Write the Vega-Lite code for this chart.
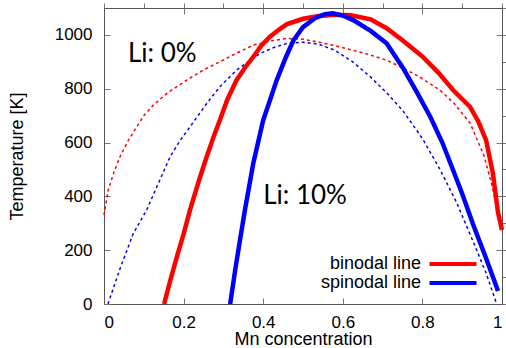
{
  "$schema": "https://vega.github.io/schema/vega-lite/v6.json",
  "width": 398,
  "height": 296,
  "autosize": {"type": "none"},
  "padding": {"left": 104, "top": 8, "right": 4, "bottom": 44},
  "background": "white",
  "config": {
    "view": {"stroke": "#777", "strokeWidth": 1},
    "font": "Liberation Sans",
    "axis": {"grid": false, "labelFont": "Liberation Sans", "titleFont": "Liberation Sans", "labelColor": "#000", "titleColor": "#000", "titleFontWeight": "normal", "domainColor": "#555", "tickColor": "#777", "labelFontSize": 17, "titleFontSize": 18}
  },
  "datasets": {
    "curves": [
      {"x": 0.0, "T": 330, "kind": "binodal line", "li": "0%"},
      {"x": 0.01, "T": 420, "kind": "binodal line", "li": "0%"},
      {"x": 0.025, "T": 490, "kind": "binodal line", "li": "0%"},
      {"x": 0.04, "T": 547, "kind": "binodal line", "li": "0%"},
      {"x": 0.06, "T": 605, "kind": "binodal line", "li": "0%"},
      {"x": 0.082, "T": 658, "kind": "binodal line", "li": "0%"},
      {"x": 0.1, "T": 700, "kind": "binodal line", "li": "0%"},
      {"x": 0.124, "T": 739, "kind": "binodal line", "li": "0%"},
      {"x": 0.16, "T": 785, "kind": "binodal line", "li": "0%"},
      {"x": 0.208, "T": 832, "kind": "binodal line", "li": "0%"},
      {"x": 0.25, "T": 870, "kind": "binodal line", "li": "0%"},
      {"x": 0.291, "T": 900, "kind": "binodal line", "li": "0%"},
      {"x": 0.33, "T": 930, "kind": "binodal line", "li": "0%"},
      {"x": 0.375, "T": 962, "kind": "binodal line", "li": "0%"},
      {"x": 0.42, "T": 978, "kind": "binodal line", "li": "0%"},
      {"x": 0.459, "T": 987, "kind": "binodal line", "li": "0%"},
      {"x": 0.5, "T": 984, "kind": "binodal line", "li": "0%"},
      {"x": 0.54, "T": 973, "kind": "binodal line", "li": "0%"},
      {"x": 0.58, "T": 960, "kind": "binodal line", "li": "0%"},
      {"x": 0.626, "T": 943, "kind": "binodal line", "li": "0%"},
      {"x": 0.67, "T": 925, "kind": "binodal line", "li": "0%"},
      {"x": 0.71, "T": 906, "kind": "binodal line", "li": "0%"},
      {"x": 0.75, "T": 878, "kind": "binodal line", "li": "0%"},
      {"x": 0.794, "T": 843, "kind": "binodal line", "li": "0%"},
      {"x": 0.844, "T": 795, "kind": "binodal line", "li": "0%"},
      {"x": 0.88, "T": 745, "kind": "binodal line", "li": "0%"},
      {"x": 0.92, "T": 672, "kind": "binodal line", "li": "0%"},
      {"x": 0.955, "T": 550, "kind": "binodal line", "li": "0%"},
      {"x": 0.975, "T": 440, "kind": "binodal line", "li": "0%"},
      {"x": 0.995, "T": 300, "kind": "binodal line", "li": "0%"},
      {"x": 0.01, "T": 0, "kind": "spinodal line", "li": "0%"},
      {"x": 0.04, "T": 130, "kind": "spinodal line", "li": "0%"},
      {"x": 0.073, "T": 260, "kind": "spinodal line", "li": "0%"},
      {"x": 0.107, "T": 349, "kind": "spinodal line", "li": "0%"},
      {"x": 0.14, "T": 460, "kind": "spinodal line", "li": "0%"},
      {"x": 0.166, "T": 547, "kind": "spinodal line", "li": "0%"},
      {"x": 0.19, "T": 605, "kind": "spinodal line", "li": "0%"},
      {"x": 0.216, "T": 658, "kind": "spinodal line", "li": "0%"},
      {"x": 0.258, "T": 745, "kind": "spinodal line", "li": "0%"},
      {"x": 0.291, "T": 807, "kind": "spinodal line", "li": "0%"},
      {"x": 0.333, "T": 869, "kind": "spinodal line", "li": "0%"},
      {"x": 0.392, "T": 931, "kind": "spinodal line", "li": "0%"},
      {"x": 0.43, "T": 955, "kind": "spinodal line", "li": "0%"},
      {"x": 0.459, "T": 968, "kind": "spinodal line", "li": "0%"},
      {"x": 0.5, "T": 973, "kind": "spinodal line", "li": "0%"},
      {"x": 0.54, "T": 965, "kind": "spinodal line", "li": "0%"},
      {"x": 0.58, "T": 943, "kind": "spinodal line", "li": "0%"},
      {"x": 0.625, "T": 900, "kind": "spinodal line", "li": "0%"},
      {"x": 0.67, "T": 843, "kind": "spinodal line", "li": "0%"},
      {"x": 0.71, "T": 785, "kind": "spinodal line", "li": "0%"},
      {"x": 0.75, "T": 720, "kind": "spinodal line", "li": "0%"},
      {"x": 0.8, "T": 615, "kind": "spinodal line", "li": "0%"},
      {"x": 0.845, "T": 498, "kind": "spinodal line", "li": "0%"},
      {"x": 0.885, "T": 380, "kind": "spinodal line", "li": "0%"},
      {"x": 0.927, "T": 234, "kind": "spinodal line", "li": "0%"},
      {"x": 0.96, "T": 115, "kind": "spinodal line", "li": "0%"},
      {"x": 0.985, "T": 7, "kind": "spinodal line", "li": "0%"},
      {"x": 0.151, "T": 0, "kind": "binodal line", "li": "10%"},
      {"x": 0.167, "T": 90, "kind": "binodal line", "li": "10%"},
      {"x": 0.183, "T": 175, "kind": "binodal line", "li": "10%"},
      {"x": 0.2, "T": 260, "kind": "binodal line", "li": "10%"},
      {"x": 0.216, "T": 349, "kind": "binodal line", "li": "10%"},
      {"x": 0.241, "T": 470, "kind": "binodal line", "li": "10%"},
      {"x": 0.258, "T": 547, "kind": "binodal line", "li": "10%"},
      {"x": 0.275, "T": 620, "kind": "binodal line", "li": "10%"},
      {"x": 0.291, "T": 683, "kind": "binodal line", "li": "10%"},
      {"x": 0.31, "T": 760, "kind": "binodal line", "li": "10%"},
      {"x": 0.333, "T": 832, "kind": "binodal line", "li": "10%"},
      {"x": 0.355, "T": 880, "kind": "binodal line", "li": "10%"},
      {"x": 0.375, "T": 918, "kind": "binodal line", "li": "10%"},
      {"x": 0.395, "T": 960, "kind": "binodal line", "li": "10%"},
      {"x": 0.417, "T": 993, "kind": "binodal line", "li": "10%"},
      {"x": 0.44, "T": 1020, "kind": "binodal line", "li": "10%"},
      {"x": 0.46, "T": 1040, "kind": "binodal line", "li": "10%"},
      {"x": 0.5, "T": 1060, "kind": "binodal line", "li": "10%"},
      {"x": 0.54, "T": 1070, "kind": "binodal line", "li": "10%"},
      {"x": 0.58, "T": 1075, "kind": "binodal line", "li": "10%"},
      {"x": 0.62, "T": 1073, "kind": "binodal line", "li": "10%"},
      {"x": 0.67, "T": 1058, "kind": "binodal line", "li": "10%"},
      {"x": 0.71, "T": 1025, "kind": "binodal line", "li": "10%"},
      {"x": 0.75, "T": 980, "kind": "binodal line", "li": "10%"},
      {"x": 0.8, "T": 920, "kind": "binodal line", "li": "10%"},
      {"x": 0.84, "T": 860, "kind": "binodal line", "li": "10%"},
      {"x": 0.877, "T": 795, "kind": "binodal line", "li": "10%"},
      {"x": 0.92, "T": 732, "kind": "binodal line", "li": "10%"},
      {"x": 0.94, "T": 680, "kind": "binodal line", "li": "10%"},
      {"x": 0.96, "T": 609, "kind": "binodal line", "li": "10%"},
      {"x": 0.977, "T": 486, "kind": "binodal line", "li": "10%"},
      {"x": 0.99, "T": 340, "kind": "binodal line", "li": "10%"},
      {"x": 1.0, "T": 275, "kind": "binodal line", "li": "10%"},
      {"x": 0.317, "T": 0, "kind": "spinodal line", "li": "10%"},
      {"x": 0.33, "T": 130, "kind": "spinodal line", "li": "10%"},
      {"x": 0.342, "T": 240, "kind": "spinodal line", "li": "10%"},
      {"x": 0.354, "T": 349, "kind": "spinodal line", "li": "10%"},
      {"x": 0.375, "T": 522, "kind": "spinodal line", "li": "10%"},
      {"x": 0.4, "T": 683, "kind": "spinodal line", "li": "10%"},
      {"x": 0.417, "T": 757, "kind": "spinodal line", "li": "10%"},
      {"x": 0.434, "T": 832, "kind": "spinodal line", "li": "10%"},
      {"x": 0.457, "T": 917, "kind": "spinodal line", "li": "10%"},
      {"x": 0.476, "T": 980, "kind": "spinodal line", "li": "10%"},
      {"x": 0.5, "T": 1029, "kind": "spinodal line", "li": "10%"},
      {"x": 0.53, "T": 1062, "kind": "spinodal line", "li": "10%"},
      {"x": 0.555, "T": 1077, "kind": "spinodal line", "li": "10%"},
      {"x": 0.575, "T": 1080, "kind": "spinodal line", "li": "10%"},
      {"x": 0.6, "T": 1072, "kind": "spinodal line", "li": "10%"},
      {"x": 0.626, "T": 1055, "kind": "spinodal line", "li": "10%"},
      {"x": 0.67, "T": 1015, "kind": "spinodal line", "li": "10%"},
      {"x": 0.71, "T": 969, "kind": "spinodal line", "li": "10%"},
      {"x": 0.75, "T": 880, "kind": "spinodal line", "li": "10%"},
      {"x": 0.785, "T": 790, "kind": "spinodal line", "li": "10%"},
      {"x": 0.82, "T": 695, "kind": "spinodal line", "li": "10%"},
      {"x": 0.85, "T": 600, "kind": "spinodal line", "li": "10%"},
      {"x": 0.877, "T": 498, "kind": "spinodal line", "li": "10%"},
      {"x": 0.9, "T": 410, "kind": "spinodal line", "li": "10%"},
      {"x": 0.927, "T": 297, "kind": "spinodal line", "li": "10%"},
      {"x": 0.96, "T": 170, "kind": "spinodal line", "li": "10%"},
      {"x": 0.99, "T": 48, "kind": "spinodal line", "li": "10%"}
    ],
    "notes": [
      {"x": 0.06, "T": 899, "text": "Li: 0%"},
      {"x": 0.4, "T": 371, "text": "Li: 10%"}
    ]
  },
  "layer": [
    {
      "data": {"name": "curves"},
      "transform": [{"filter": "datum.li == '0%'"}],
      "mark": {"type": "line", "strokeWidth": 1.5, "strokeDash": [3, 3]},
      "encoding": {
        "x": {"field": "x", "type": "quantitative", "scale": {"domain": [0, 1], "nice": false},
          "axis": {"orient": "bottom", "values": [0, 0.2, 0.4, 0.6, 0.8, 1], "format": "~g", "tickSize": -6, "labelPadding": 16, "title": "Mn concentration", "titleY": 40, "titleBaseline": "alphabetic"}},
        "y": {"field": "T", "type": "quantitative", "scale": {"domain": [0, 1100], "nice": false},
          "axis": {"orient": "left", "values": [0, 200, 400, 600, 800, 1000], "format": "d", "tickSize": -6, "labelPadding": 18, "title": "Temperature [K]", "titleX": -82, "titleY": 148, "titleBaseline": "alphabetic", "titleAlign": "center", "titleAngle": -90}},
        "color": {"field": "kind", "type": "nominal", "scale": {"domain": ["binodal line", "spinodal line"], "range": ["#ff0000", "#0000ff"]},
          "legend": {"orient": "none", "legendX": 340, "legendY": 247, "title": null, "symbolType": "M-4,0L4,0", "symbolSize": 138, "symbolStrokeWidth": 4, "symbolDash": [1, 0], "symbolFillColor": "transparent", "labelFontSize": 18, "labelFont": "Liberation Sans", "labelColor": "#000", "labelAlign": "right", "labelOffset": -41, "padding": 0, "rowPadding": 1, "offset": 0}}
      }
    },
    {
      "data": {"name": "curves"},
      "transform": [{"filter": "datum.li == '10%'"}],
      "mark": {"type": "line", "strokeWidth": 4.5},
      "encoding": {
        "x": {"field": "x", "type": "quantitative"},
        "y": {"field": "T", "type": "quantitative"},
        "color": {"field": "kind", "type": "nominal"}
      }
    },
    {
      "data": {"name": "notes"},
      "mark": {"type": "text", "font": "Lato", "fontSize": 26, "align": "left", "baseline": "alphabetic", "color": "#000"},
      "encoding": {
        "x": {"field": "x", "type": "quantitative", "axis": {"orient": "top", "values": [0.2, 0.4, 0.6, 0.8], "labels": false, "title": null, "domain": false, "tickSize": -6}},
        "y": {"field": "T", "type": "quantitative", "axis": {"orient": "right", "values": [200, 400, 600, 800, 1000], "labels": false, "title": null, "domain": false, "tickSize": -6}},
        "text": {"field": "text"}
      }
    }
  ],
  "resolve": {"axis": {"x": "independent", "y": "independent"}}
}
